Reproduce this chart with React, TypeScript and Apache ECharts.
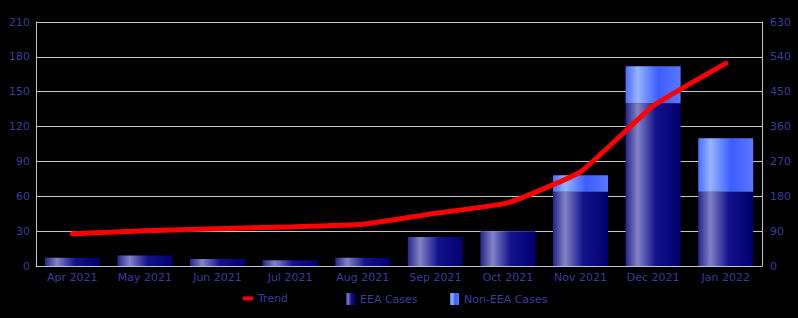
import React, { useEffect, useRef } from "react";
import * as echarts from "echarts";

const categories = ["Apr 2021", "May 2021", "Jun 2021", "Jul 2021", "Aug 2021", "Sep 2021", "Oct 2021", "Nov 2021", "Dec 2021", "Jan 2022"];
const eeaCases = [7, 9, 6, 5, 7, 25, 30, 64, 140, 64];
const nonEeaCases = [0, 0, 0, 0, 0, 0, 0, 14, 32, 46];
const trend = [83, 91, 96, 101, 108, 136, 163, 243, 413, 523];

const labelColor = "#3c3c9c";
const gridColor = "#c4c4cc";
const font = "DejaVu Sans";

const eeaGrad = new echarts.graphic.LinearGradient(0, 0, 1, 0, [
  { offset: 0, color: "#24248a" },
  { offset: 0.22, color: "#8282c6" },
  { offset: 0.55, color: "#12128c" },
  { offset: 1, color: "#00006e" },
]);
const nonEeaGrad = new echarts.graphic.LinearGradient(0, 0, 1, 0, [
  { offset: 0, color: "#4a6cff" },
  { offset: 0.22, color: "#96b4ff" },
  { offset: 0.6, color: "#3c5cff" },
  { offset: 1, color: "#5a78ff" },
]);

export default function App() {
  const ref = useRef<HTMLDivElement>(null);
  useEffect(() => {
    if (!ref.current) return;
    const chart = echarts.init(ref.current, null, { renderer: "svg" });
    const textStyle = { color: labelColor, fontFamily: font, fontSize: 11 };
    chart.setOption({
      animation: false,
      backgroundColor: "#000000",
      grid: { left: 36, right: 36, top: 22, bottom: 52 },
      legend: [
        { data: ["Trend"], left: 243, top: 293, itemWidth: 10, itemHeight: 4, itemGap: 0, textStyle, icon: "rect", padding: 0 },
        { data: ["EEA Cases"], left: 346, top: 293, itemWidth: 9, itemHeight: 12, textStyle, icon: "rect", padding: 0 },
        { data: ["Non-EEA Cases"], left: 450, top: 293, itemWidth: 9, itemHeight: 12, textStyle, icon: "rect", padding: 0 },
      ],
      xAxis: {
        type: "category",
        data: categories,
        axisLine: { show: true, lineStyle: { color: gridColor, width: 1 } },
        axisTick: { show: false },
        axisLabel: { ...textStyle, margin: 6, interval: 0 },
      },
      yAxis: [
        {
          type: "value",
          min: 0,
          max: 210,
          interval: 30,
          axisLine: { show: true, lineStyle: { color: gridColor, width: 1 } },
          axisTick: { show: false },
          axisLabel: { ...textStyle, margin: 6 },
          splitLine: { show: true, lineStyle: { color: gridColor, width: 1 } },
        },
        {
          type: "value",
          min: 0,
          max: 630,
          interval: 90,
          axisLine: { show: true, lineStyle: { color: gridColor, width: 1 } },
          axisTick: { show: false },
          axisLabel: { ...textStyle, margin: 8 },
          splitLine: { show: false },
        },
      ],
      series: [
        {
          name: "EEA Cases",
          type: "bar",
          stack: "cases",
          data: eeaCases,
          barWidth: 55,
          itemStyle: { color: eeaGrad },
          z: 2,
        },
        {
          name: "Non-EEA Cases",
          type: "bar",
          stack: "cases",
          data: nonEeaCases,
          barWidth: 55,
          itemStyle: { color: nonEeaGrad },
          z: 2,
        },
        {
          name: "Trend",
          type: "line",
          yAxisIndex: 1,
          data: trend,
          smooth: 0.12,
          symbol: "none",
          lineStyle: { color: "#ff0000", width: 5, cap: "round", join: "round" },
          itemStyle: { color: "#ff0000" },
          z: 5,
        },
      ],
    });
    return () => chart.dispose();
  }, []);
  return <div ref={ref} style={{ width: 798, height: 318, position: "fixed", left: 0, top: 0 }} />;
}
